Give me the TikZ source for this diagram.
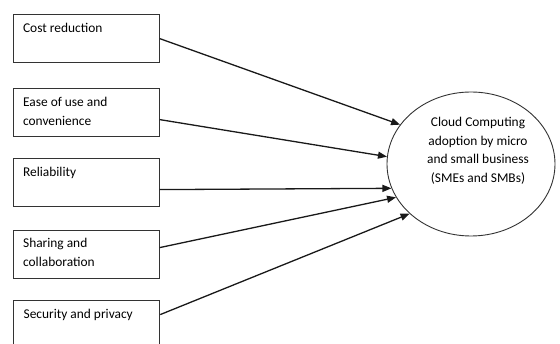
\documentclass[tikz,border=0pt]{standalone}
\usepackage{fontspec}
\setmainfont{Carlito}
\usetikzlibrary{arrows.meta,shapes.geometric}
\begin{document}
\begin{tikzpicture}[x=1pt,y=-1pt,
  every node/.style={font=\fontsize{13.4pt}{18.5pt}\selectfont, text=black},
  factor/.style={draw=black!80, line width=1.2pt, rectangle, anchor=north west, inner xsep=10pt, inner ysep=0pt},
  target/.style={draw=black!80, line width=0.9pt, ellipse, minimum width=168pt, minimum height=144pt, inner sep=0pt},
  link/.style={draw=black!90, line width=1.3pt, -{Triangle[length=9pt,width=7pt]}}]
\useasboundingbox (0,0) rectangle (560,344);
\node[factor] (b1) at (12.5,14) {\parbox[t][48pt][t]{126pt}{\rule{0pt}{18pt}Cost reduction}};
\node[factor] (b2) at (12.5,88) {\parbox[t][48pt][t]{126pt}{\rule{0pt}{18pt}Ease of use and\\convenience}};
\node[factor] (b3) at (12.5,158) {\parbox[t][48pt][t]{126pt}{\rule{0pt}{18pt}Reliability}};
\node[factor] (b4) at (12.5,230) {\parbox[t][48pt][t]{126pt}{\rule{0pt}{17pt}Sharing and\\collaboration}};
\node[factor] (b5) at (13,300) {\parbox[t][48pt][t]{126pt}{\rule{0pt}{18pt}Security and privacy}};
\node[target] (cc) at (471,164) {};
\node[align=center, anchor=north, inner sep=0pt] (ct) at (478,117) {Cloud Computing\\adoption by micro\\and small business\\(SMEs and SMBs)};
\draw[link] (b1.east) -- (cc.151.7);
\draw[link] ([yshift=-7pt]b2.east) -- (cc.175.2);
\draw[link] ([yshift=-7pt]b3.east) -- (cc.197.5);
\draw[link] ([yshift=7pt]b4.east) -- (cc.204.3);
\draw[link] ([yshift=10pt]b5.east) -- (cc.219.6);
\end{tikzpicture}
\end{document}
